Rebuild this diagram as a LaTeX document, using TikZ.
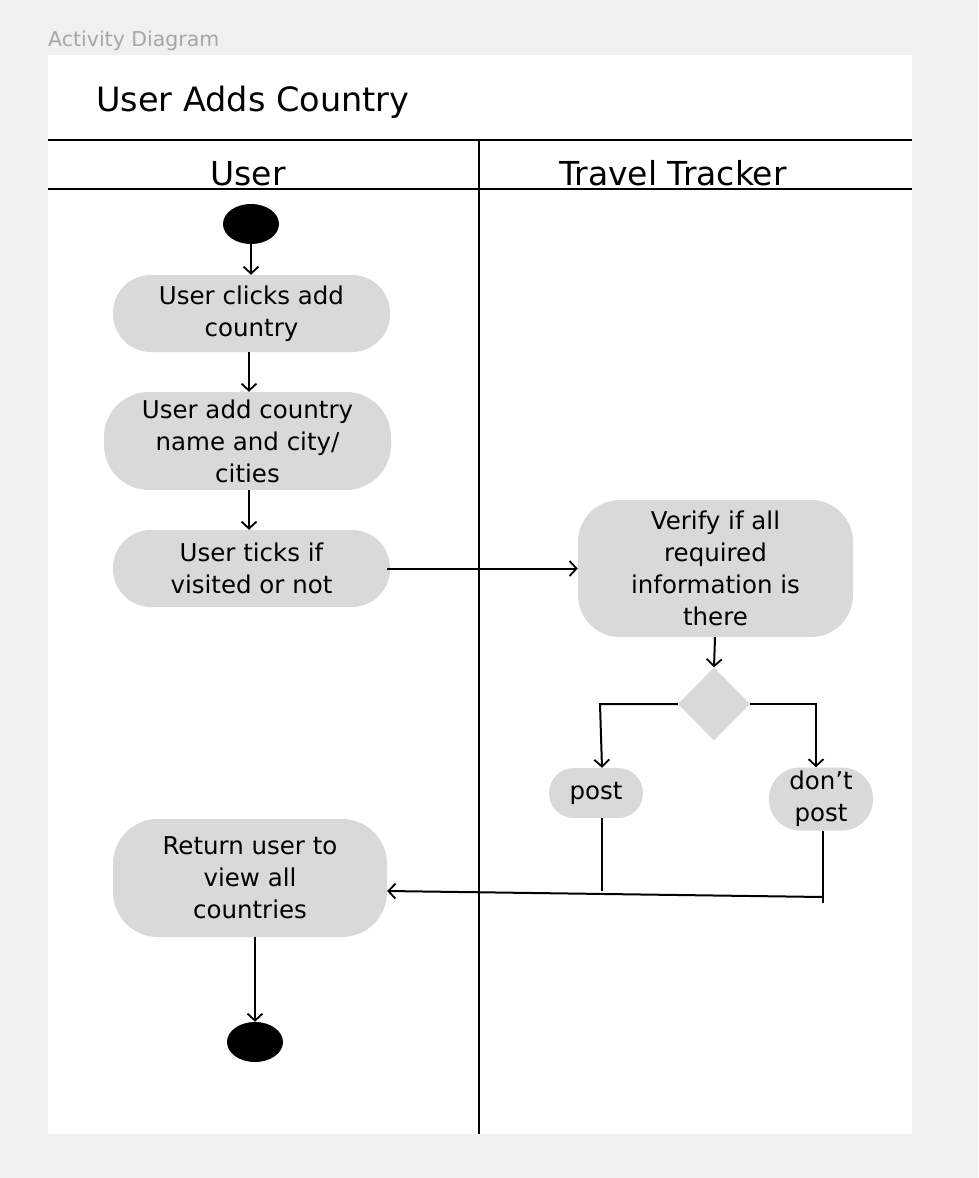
\documentclass[tikz,border=0pt]{standalone}
\usepackage{fontspec}
\setmainfont{DejaVu Sans}
\usetikzlibrary{arrows.meta,shapes.geometric}
\definecolor{bgc}{HTML}{F0F0F0}
\definecolor{boxc}{HTML}{D9D9D9}
\definecolor{capc}{HTML}{A6A6A6}
\begin{document}
\begin{tikzpicture}[x=1pt,y=-1pt,
  act/.style={rectangle,fill=boxc,inner sep=0pt,align=center,
    font=\fontsize{24.5}{32}\selectfont},
  dot/.style={ellipse,fill=black,minimum width=56pt,minimum height=40pt,inner sep=0pt},
  flow/.style={line width=2pt,-{Straight Barb[length=7pt,width=15pt,line width=1.8pt]}},
  plain/.style={line width=2pt},
  frameline/.style={line width=2pt}]
\useasboundingbox (0,0) rectangle (978,1178);
\fill[bgc] (0,0) rectangle (978,1178);
\fill[white] (48,55) rectangle (912,1134);
\node[anchor=base west,inner sep=0pt,text=capc,font=\fontsize{20.5}{24}\selectfont] (cap) at (48,46) {Activity Diagram};
\node[anchor=base west,inner sep=0pt,font=\fontsize{33.5}{40}\selectfont] (title) at (96,111) {User Adds Country};
\draw[frameline] (48,140) -- (912,140);
\draw[frameline] (48,189) -- (912,189);
\draw[frameline] (479,140) -- (479,1134);
\node[anchor=base,inner sep=0pt,font=\fontsize{33}{40}\selectfont] (laneU) at (248,185) {User};
\node[anchor=base,inner sep=0pt,font=\fontsize{33}{40}\selectfont] (laneT) at (673,185) {Travel Tracker};

\node[dot] (start) at (251,224) {};
\node[act,minimum width=277pt,minimum height=77pt,rounded corners=38pt] (b1) at (251.5,313.5) {User clicks add\\country};
\node[act,minimum width=287pt,minimum height=98pt,rounded corners=45pt] (b2) at (247.5,441) {User add country\\name and city/\\cities};
\node[act,minimum width=277pt,minimum height=77pt,rounded corners=38pt] (b3) at (251.5,568.5) {User ticks if\\visited or not};
\node[act,minimum width=275pt,minimum height=137pt,rounded corners=42pt] (ver) at (715.5,568.5) {Verify if all\\required\\information is\\there};
\node[diamond,fill=boxc,minimum width=72pt,minimum height=73pt,inner sep=0pt] (dia) at (714,704) {};
\node[act,minimum width=94pt,minimum height=50pt,rounded corners=25pt] (post) at (596,793) {post};
\node[act,minimum width=104pt,minimum height=63pt,rounded corners=31pt] (dont) at (821,799) {don’t\\post};
\node[act,minimum width=274pt,minimum height=118pt,rounded corners=45pt] (ret) at (250,878) {Return user to\\view all\\countries};
\node[dot] (fin) at (255,1042) {};

\coordinate (pend) at (602,891);
\coordinate (dend) at (823,903);
\coordinate (join) at (823,897);

\draw[flow] (start.south) -- (b1.north -| start.south);
\draw[flow] ([xshift=-2.5pt]b1.south) -- ([xshift=-2.5pt]b1.south |- b2.north);
\draw[flow] ([xshift=1.5pt]b2.south) -- ([xshift=1.5pt]b2.south |- b3.north);
\draw[flow] ([xshift=-3pt]b3.east) -- (ver.west);
\draw[flow] ([xshift=-0.5pt]ver.south) -- (dia.north);
\draw[flow] (dia.west) -- ([xshift=4pt]dia.west -| post.north) -- ([xshift=6pt]post.north);
\draw[flow] (dia.east) -- ([xshift=-5pt]dia.east -| dont.north) -- ([xshift=-5pt]dont.north);
\draw[plain] ([xshift=6pt]post.south) -- (pend);
\draw[plain] ([xshift=2pt]dont.south) -- (dend);
\draw[flow] (join) -- ([yshift=-13pt]ret.east);
\draw[flow] (ret.south -| fin.north) -- (fin.north);
\end{tikzpicture}
\end{document}
